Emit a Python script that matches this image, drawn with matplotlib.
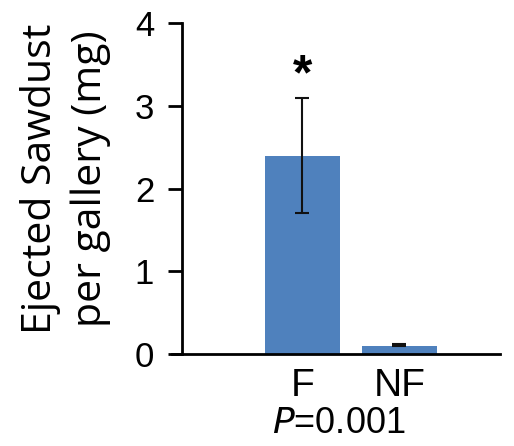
import matplotlib
matplotlib.use("Agg")
import matplotlib.pyplot as plt

categories = ["F", "NF"]
values = [2.4, 0.1]
err_low = [0.7, 0.0]
err_high = [0.7, 0.02]
yticks = [0, 1, 2, 3, 4]

fig = plt.figure(figsize=(5.14, 4.46), dpi=100)
ax = fig.add_axes([0.354, 0.206, 0.619, 0.742])
x = list(range(len(categories)))
ax.bar(x, values, width=0.77, color="#4f81bd", zorder=2)
ax.errorbar(x, values, yerr=[err_low, err_high], fmt="none", ecolor="#111111",
            elinewidth=1.5, capsize=4.7, capthick=1.5, zorder=3)
ax.set_xlim(-1.24, 2.04)
ax.set_ylim(0, 4)
for s in ["top", "right"]:
    ax.spines[s].set_visible(False)
for s in ["left", "bottom"]:
    ax.spines[s].set_linewidth(2)
ax.spines["bottom"].set_position(("data", 0))
ax.spines["bottom"].set_bounds(-1.34, 2.04)
ax.set_yticks(yticks)
ax.set_yticklabels([str(v) for v in yticks], fontfamily="Liberation Sans", fontsize=25)
ax.set_xticks(x)
ax.set_xticklabels(categories, fontfamily="Liberation Sans", fontsize=28)
ax.tick_params(axis="y", direction="out", length=10, width=2, pad=10)
ax.tick_params(axis="x", length=0, pad=10)
fig.text(0.128, 0.60, "Ejected Sawdust\nper gallery (mg)", rotation=90, ha="center", va="center",
         fontfamily="Open Sans", fontsize=29.5, linespacing=1.3)
ax.text(0, 3.36, "*", ha="center", va="center", fontsize=36, fontweight="bold",
        fontfamily="Liberation Sans")
fig.text(0.66, 0.05, "$\\it{P}$=0.001", ha="center", va="center", fontsize=26,
         fontfamily="Liberation Sans")
fig.savefig("out.png", dpi=100)
